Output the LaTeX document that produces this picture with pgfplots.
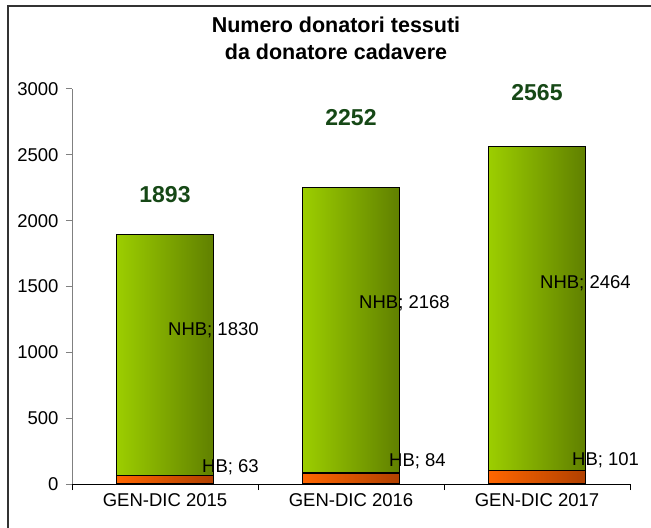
\documentclass[border=0pt]{standalone}
\usepackage{pgfplots}
\pgfplotsset{compat=1.18}
\usepackage{fontspec}
\setmainfont{Liberation Sans}
\definecolor{greenL}{RGB}{156,206,0}
\definecolor{greenR}{RGB}{96,128,0}
\definecolor{orangeL}{RGB}{255,102,0}
\definecolor{orangeR}{RGB}{176,64,0}
\definecolor{totgreen}{RGB}{22,72,22}
\newcommand{\lbl}{\fontsize{18.5bp}{22bp}\selectfont}
\pgfplotsset{
  hb/.style={ybar, bar shift=0pt, draw=black, line width=1.3bp, left color=orangeL, right color=orangeR},
  tot/.style={ybar, bar shift=0pt, draw=black, line width=1.3bp, left color=greenL, right color=greenR},
}
\begin{document}
\begin{tikzpicture}
\path[use as bounding box, clip] (0,0) rectangle (651bp,528bp);
\fill[white] (0,0) rectangle (651bp,528bp);
\draw[line width=1.5bp, black!80] (8bp,-20bp) rectangle (680bp,522bp);
\node[font=\fontsize{21.5bp}{25bp}\selectfont\bfseries] at (336bp,503bp) {Numero donatori tessuti};
\node[font=\fontsize{21.5bp}{25bp}\selectfont\bfseries] at (336bp,476bp) {da donatore cadavere};
\begin{axis}[
  at={(72bp,44bp)}, anchor=south west,
  scale only axis, width=558bp, height=395bp,
  xmin=-0.5, xmax=2.5, ymin=0, ymax=3000,
  axis x line=bottom, axis y line=left,
  axis line style={-},
  x axis line style={black, line width=1bp},
  y axis line style={gray, line width=1bp},
  ytick={0,500,...,3000},
  xtick={-0.5,0.5,1.5,2.5},
  x tick label as interval,
  xticklabels={GEN-DIC 2015,GEN-DIC 2016,GEN-DIC 2017},
  tick align=outside,
  major tick length=6bp,
  xtick style={black, line width=1bp},
  ytick style={gray, line width=1bp},
  /pgf/number format/assume math mode=true,
  /pgf/number format/1000 sep={},
  tick label style={font=\lbl},
  yticklabel style={xshift=-4bp},
  bar width=97bp,
  clip=false,
]
% totals (HB + NHB), then HB drawn over the base
\addplot[tot] coordinates {(0,1893)};
\addplot[tot] coordinates {(1,2252)};
\addplot[tot] coordinates {(2,2565)};
\addplot[hb] coordinates {(0,63)};
\addplot[hb] coordinates {(1,84)};
\addplot[hb] coordinates {(2,101)};
\coordinate (n1) at (axis cs:0.016,1170);
\coordinate (n2) at (axis cs:1.043,1375);
\coordinate (n3) at (axis cs:2.016,1527);
\coordinate (h1) at (axis cs:0.199,129);
\coordinate (h2) at (axis cs:1.204,175);
\coordinate (h3) at (axis cs:2.188,182);
\coordinate (t1) at (axis cs:0,2195);
\coordinate (t2) at (axis cs:1,2780);
\coordinate (t3) at (axis cs:2,2970);
\end{axis}
\node[anchor=west, font=\lbl, inner sep=0pt] at (n1) {NHB; 1830};
\node[anchor=west, font=\lbl, inner sep=0pt] at (n2) {NHB; 2168};
\node[anchor=west, font=\lbl, inner sep=0pt] at (n3) {NHB; 2464};
\node[anchor=west, font=\lbl, inner sep=0pt] at (h1) {HB; 63};
\node[anchor=west, font=\lbl, inner sep=0pt] at (h2) {HB; 84};
\node[anchor=west, font=\lbl, inner sep=0pt] at (h3) {HB; 101};
\node[font=\fontsize{23bp}{27bp}\selectfont\bfseries, text=totgreen] at (t1) {1893};
\node[font=\fontsize{23bp}{27bp}\selectfont\bfseries, text=totgreen] at (t2) {2252};
\node[font=\fontsize{23bp}{27bp}\selectfont\bfseries, text=totgreen] at (t3) {2565};
\end{tikzpicture}
\end{document}
